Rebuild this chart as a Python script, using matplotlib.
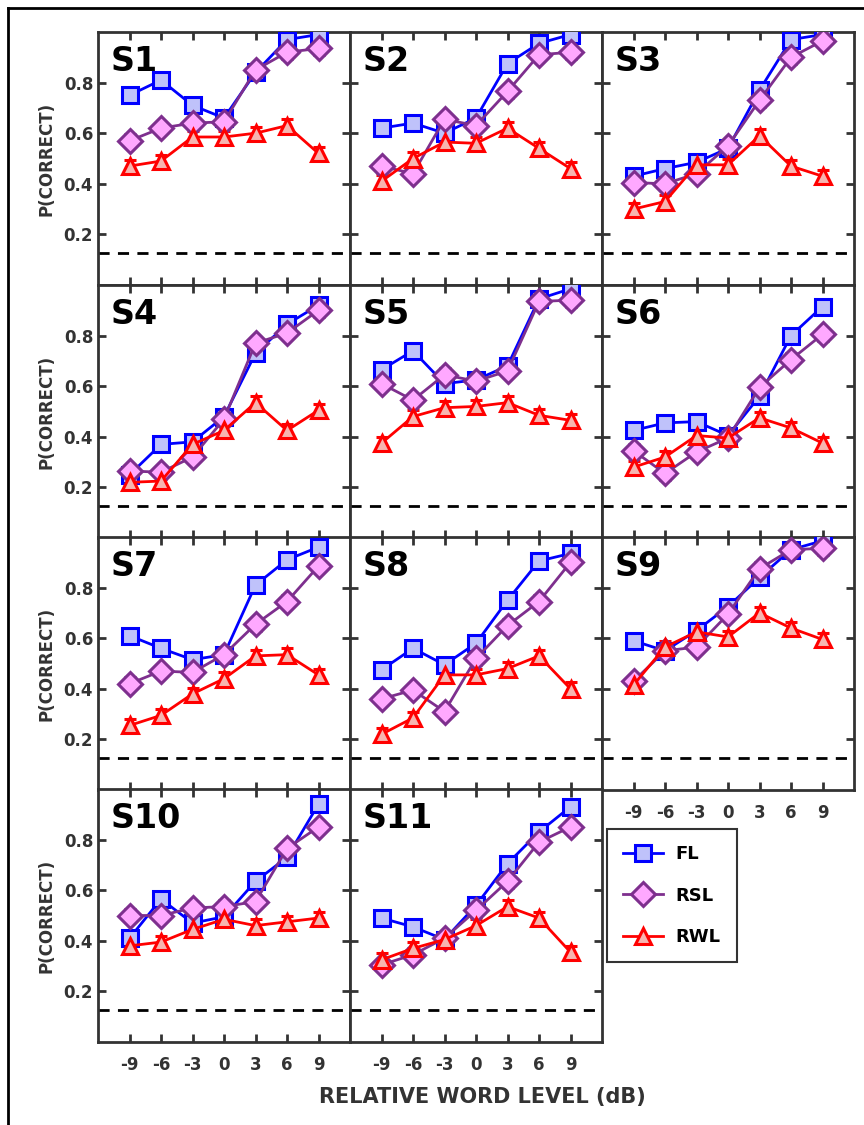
import numpy as np
import matplotlib.pyplot as plt
from matplotlib.lines import Line2D

plt.rcParams['font.family'] = ['DejaVu Sans']
plt.rcParams['font.weight'] = 'bold'

# relative word level (dB)
levels = [-9, -6, -3, 0, 3, 6, 9]
subjects = ['S1', 'S2', 'S3', 'S4', 'S5', 'S6', 'S7', 'S8', 'S9', 'S10', 'S11']

fl = {
    'S1': [0.75, 0.81, 0.71, 0.66, 0.84, 0.97, 0.99],
    'S2': [0.62, 0.64, 0.60, 0.66, 0.875, 0.955, 0.99],
    'S3': [0.43, 0.46, 0.485, 0.54, 0.77, 0.97, 0.99],
    'S4': [0.25, 0.37, 0.38, 0.48, 0.73, 0.845, 0.92],
    'S5': [0.665, 0.74, 0.61, 0.625, 0.68, 0.945, 0.985],
    'S6': [0.425, 0.455, 0.46, 0.405, 0.56, 0.80, 0.915],
    'S7': [0.61, 0.56, 0.515, 0.535, 0.81, 0.91, 0.96],
    'S8': [0.475, 0.56, 0.495, 0.58, 0.75, 0.905, 0.935],
    'S9': [0.59, 0.55, 0.63, 0.725, 0.84, 0.95, 0.985],
    'S10': [0.41, 0.565, 0.47, 0.495, 0.635, 0.73, 0.94],
    'S11': [0.49, 0.455, 0.405, 0.54, 0.705, 0.83, 0.93],
}
rsl = {
    'S1': [0.57, 0.62, 0.64, 0.645, 0.85, 0.92, 0.935],
    'S2': [0.47, 0.44, 0.655, 0.63, 0.765, 0.91, 0.92],
    'S3': [0.405, 0.40, 0.44, 0.55, 0.73, 0.90, 0.965],
    'S4': [0.265, 0.26, 0.32, 0.47, 0.77, 0.81, 0.90],
    'S5': [0.61, 0.545, 0.645, 0.62, 0.66, 0.935, 0.94],
    'S6': [0.345, 0.255, 0.34, 0.395, 0.595, 0.705, 0.805],
    'S7': [0.42, 0.47, 0.465, 0.535, 0.655, 0.745, 0.885],
    'S8': [0.36, 0.395, 0.31, 0.52, 0.65, 0.745, 0.90],
    'S9': [0.43, 0.55, 0.565, 0.695, 0.875, 0.95, 0.955],
    'S10': [0.50, 0.50, 0.53, 0.535, 0.555, 0.765, 0.85],
    'S11': [0.305, 0.345, 0.41, 0.52, 0.635, 0.79, 0.85],
}
rwl = {
    'S1': [0.47, 0.49, 0.585, 0.585, 0.60, 0.63, 0.52],
    'S2': [0.41, 0.50, 0.565, 0.56, 0.62, 0.54, 0.46],
    'S3': [0.30, 0.33, 0.475, 0.475, 0.59, 0.47, 0.43],
    'S4': [0.22, 0.225, 0.37, 0.425, 0.535, 0.425, 0.505],
    'S5': [0.375, 0.48, 0.515, 0.52, 0.535, 0.485, 0.465],
    'S6': [0.28, 0.32, 0.405, 0.395, 0.475, 0.435, 0.375],
    'S7': [0.255, 0.295, 0.38, 0.44, 0.53, 0.535, 0.455],
    'S8': [0.22, 0.285, 0.455, 0.455, 0.48, 0.53, 0.40],
    'S9': [0.415, 0.565, 0.625, 0.605, 0.70, 0.64, 0.595],
    'S10': [0.38, 0.395, 0.445, 0.485, 0.46, 0.475, 0.49],
    'S11': [0.325, 0.37, 0.405, 0.46, 0.535, 0.49, 0.355],
}
chance = 0.125
err = 0.025

styles = [
    ('FL', fl, 's', '#0000FF', '#BFC2FA', '#0000FF'),
    ('RSL', rsl, 'D', '#7E2F8E', '#FFA8FF', '#7E2F8E'),
    ('RWL', rwl, '^', '#FF0000', '#F7B5B0', '#FF0000'),
]

W, H = 864, 1125
fig = plt.figure(figsize=(W / 100, H / 100), dpi=100)

col_left = [98, 350, 602]
row_top = [32, 285, 537, 789]
aw, ah = 252, 253
spine_col = '#333333'

for i, s in enumerate(subjects):
    r, c = divmod(i, 3)
    ax = fig.add_axes([col_left[c] / W, 1 - (row_top[r] + ah) / H, aw / W, ah / H])
    ax.axhline(chance, color='black', ls=(0, (4, 3)), lw=2, zorder=1)
    for name, data, mk, lc, fc, ec in styles:
        ms = 11 if mk == 's' else 12
        ax.errorbar(levels, data[s], yerr=err, color=lc, lw=2, marker=mk, ms=ms,
                    mfc=fc, mec=ec, mew=2.2, capsize=4, capthick=2, elinewidth=2, zorder=3)
    ax.set_xlim(-12, 12)
    ax.set_ylim(0, 1)
    ax.set_xticks(levels)
    ax.set_yticks([0.2, 0.4, 0.6, 0.8])
    ax.tick_params(direction='in', length=6, width=2, color=spine_col,
                   top=True, right=True, labelsize=12, labelcolor='#333333')
    for sp in ax.spines.values():
        sp.set_color(spine_col)
        sp.set_linewidth(2)
    ax.text(0.05, 0.95, s, transform=ax.transAxes, fontsize=24, fontweight='bold',
            va='top', ha='left')
    if c == 0:
        ax.set_ylabel('P(CORRECT)', fontsize=12, fontweight='bold', color='#333333', labelpad=6)
        ax.set_yticklabels(['0.2', '0.4', '0.6', '0.8'], fontweight='bold')
    else:
        ax.set_yticklabels([])
    if i >= 8:
        ax.set_xticklabels([str(v) for v in levels], fontweight='bold')
        ax.tick_params(axis='x', pad=10)
    else:
        ax.set_xticklabels([])

fig.text(482 / W, 1 - 1097 / H, 'RELATIVE WORD LEVEL (dB)', ha='center', va='center',
         fontsize=15, fontweight='bold', color='#333333')

handles = []
for name, data, mk, lc, fc, ec in styles:
    ms = 11 if mk == 's' else 12
    handles.append(Line2D([0], [0], color=lc, lw=2, marker=mk, ms=ms, mfc=fc, mec=ec, mew=2.2))
leg = fig.legend(handles, [st[0] for st in styles], loc='upper left',
                 bbox_to_anchor=(607 / W, 1 - 829 / H), borderaxespad=0, frameon=True,
                 fancybox=False, handlelength=2.2, prop={'weight': 'bold', 'size': 13},
                 labelspacing=1.3, borderpad=0.9, handletextpad=0.7)
leg.get_frame().set_edgecolor('black')
leg.get_frame().set_linewidth(1.5)

# outer frame
fig.add_artist(Line2D([8 / W, 8 / W], [0, 1 - 8 / H], color='black', lw=2, transform=fig.transFigure))
fig.add_artist(Line2D([8 / W, 1], [1 - 8 / H, 1 - 8 / H], color='black', lw=2, transform=fig.transFigure))

fig.savefig('out.png', dpi=100)
